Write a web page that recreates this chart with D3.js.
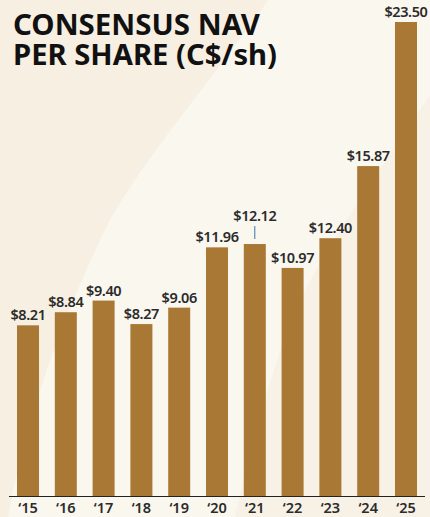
<!DOCTYPE html>
<html>
<head>
<meta charset="utf-8">
<script src="https://cdn.jsdelivr.net/npm/d3@7"></script>
<style>
  html, body { margin: 0; padding: 0; background: #faf7ef; }
  svg { display: block; }
</style>
</head>
<body>
<script>
// data
var years = ["\u201815", "\u201816", "\u201817", "\u201818", "\u201819", "\u201820", "\u201821", "\u201822", "\u201823", "\u201824", "\u201825"];
var navValues = [8.21, 8.84, 9.40, 8.27, 9.06, 11.96, 12.12, 10.97, 12.40, 15.87, 23.50];
var titleLines = ["CONSENSUS NAV", "PER SHARE (C$/sh)"];
var yCap = 22.8; // last bar is cut off at the top of the chart

var width = 430, height = 517;
var margin = {top: 22, right: 5, bottom: 21, left: 9};

var svg = d3.select("body").append("svg")
    .attr("width", width)
    .attr("height", height);

// background shapes
svg.append("rect").attr("width", width).attr("height", height).attr("fill", "#faf7ef");
svg.append("path")
    .attr("d", "M0,0 L268,0 C220,70 150,150 110,220 C70,300 30,400 8,517 L0,517 Z")
    .attr("fill", "#f7efe1");
svg.append("path")
    .attr("d", "M430,95 C380,170 330,240 300,300 C270,370 250,450 235,517 L430,517 Z")
    .attr("fill", "#f8f2e6");

// scales
var x = d3.scaleBand()
    .domain(years)
    .range([margin.left, width - margin.right])
    .paddingInner(0.418)
    .paddingOuter(0.212);

var y = d3.scaleLinear()
    .domain([0, yCap])
    .range([height - margin.bottom, margin.top])
    .clamp(true);

// title (one text, two lines)
svg.append("text")
    .attr("font-family", "'Noto Sans', sans-serif")
    .attr("font-weight", 700)
    .attr("font-size", "29px")
    .attr("fill", "#111111")
  .selectAll("tspan")
    .data(titleLines)
    .enter().append("tspan")
    .attr("x", 13)
    .attr("y", function(d, i) { return 35 + i * 30; })
    .attr("textLength", function(d, i) { return i === 0 ? 247 : 264; })
    .attr("lengthAdjust", "spacingAndGlyphs")
    .text(function(d) { return d; });

// bars
svg.append("g").selectAll("rect")
    .data(navValues)
    .enter().append("rect")
    .attr("x", function(d, i) { return x(years[i]); })
    .attr("y", function(d) { return y(d); })
    .attr("width", x.bandwidth())
    .attr("height", function(d) { return y(0) - y(d); })
    .attr("fill", "#a87834");

// value labels ('21 label is lifted with a leader tick)
var lifted = function(i) { return years[i] === "\u201821"; };

svg.append("g").selectAll("text")
    .data(navValues)
    .enter().append("text")
    .attr("x", function(d, i) { return x(years[i]) + x.bandwidth() / 2; })
    .attr("y", function(d, i) { return y(d) - (lifted(i) ? 23 : 5); })
    .attr("text-anchor", "middle")
    .attr("font-family", "'Noto Sans', sans-serif")
    .attr("font-weight", 600)
    .attr("font-size", "14.5px")
    .attr("letter-spacing", "-0.4px")
    .attr("fill", "#2b2b2b")
    .text(function(d) { return "$" + d3.format(".2f")(d); });

svg.append("g").selectAll("line")
    .data(navValues.filter(function(d, i) { return lifted(i); }))
    .enter().append("line")
    .attr("x1", x("\u201821") + x.bandwidth() / 2)
    .attr("x2", x("\u201821") + x.bandwidth() / 2)
    .attr("y1", function(d) { return y(d) - 18; })
    .attr("y2", function(d) { return y(d) - 5; })
    .attr("stroke", "#2f7ab0")
    .attr("stroke-width", 1);

// x axis
var xAxis = svg.append("g")
    .attr("transform", "translate(0," + y(0) + ")")
    .call(d3.axisBottom(x).tickSize(0).tickPadding(7));

xAxis.select(".domain")
    .attr("d", "M" + margin.left + ",0.5H" + (width - margin.right))
    .attr("stroke", "#222222");

xAxis.selectAll("text")
    .attr("font-family", "'Noto Sans', sans-serif")
    .attr("font-weight", 600)
    .attr("font-size", "14.5px")
    .attr("fill", "#2b2b2b");
</script>
</body>
</html>
